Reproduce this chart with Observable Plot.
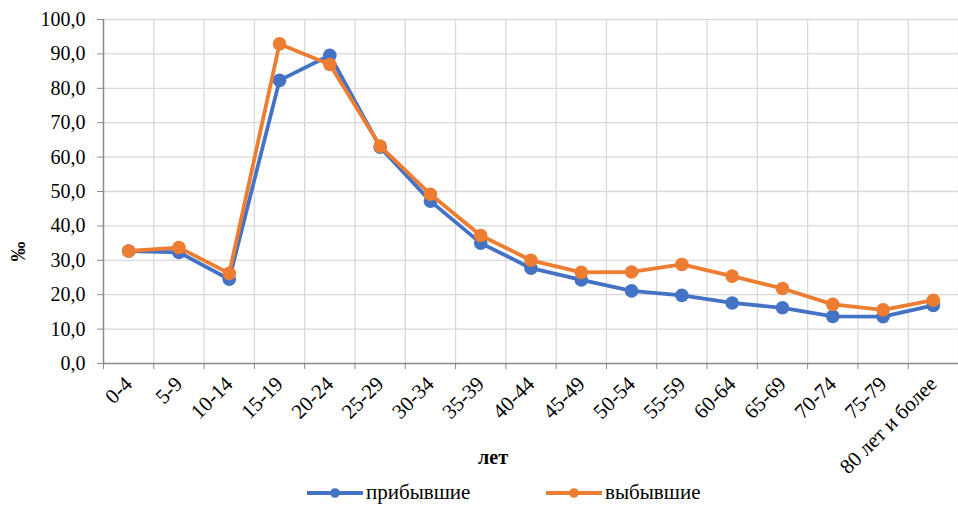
<!DOCTYPE html>
<html><head><meta charset="utf-8">
<script src="https://cdn.jsdelivr.net/npm/d3@7"></script>
<script src="https://cdn.jsdelivr.net/npm/@observablehq/plot@0.6"></script>
<style>
body{margin:0;background:#fff;font-family:"Liberation Serif","Times New Roman",serif;}
#legend{position:relative;height:25px;font-size:21px;color:#000;}
.item{position:absolute;top:0;height:25px;display:flex;align-items:center;}
.item svg{margin-right:3px;}
</style></head><body><div id="chart"></div><div id="legend"></div>
<script>
const ageGroups = ["0-4","5-9","10-14","15-19","20-24","25-29","30-34","35-39","40-44","45-49","50-54","55-59","60-64","65-69","70-74","75-79","80 лет и более"];
const arrived = [32.7,32.3,24.5,82.3,89.6,62.9,47.2,35.0,27.7,24.3,21.1,19.8,17.6,16.2,13.7,13.6,16.9];
const departed = [32.7,33.7,26.2,92.9,86.9,63.2,49.2,37.2,30.0,26.5,26.6,28.8,25.4,21.8,17.2,15.6,18.4];
const yTicks = [0,10,20,30,40,50,60,70,80,90,100];
const seriesNames = ["прибывшие","выбывшие"];
const seriesColors = ["#4472C4","#ED7D31"];
const yTitle = "‰";
const xTitle = "лет";

const seriesValues = [arrived, departed];
const data = seriesValues.map((vals, s) => vals.map((v, i) => ({i, age: ageGroups[i], v, s: seriesNames[s]})));
const bounds = d3.range(ageGroups.length + 1).map(k => k - 0.5);
const fmt = d => d.toFixed(1).replace(".", ",");
const axisColor = "#898989";

const marks = [
  Plot.ruleX(bounds.slice(1), {stroke: "#d9d9d9", strokeWidth: 1.3}),
  Plot.ruleY(yTicks.slice(1), {stroke: "#d9d9d9", strokeWidth: 1.3}),
  Plot.axisY({ticks: yTicks, tickFormat: fmt, tickSize: 6, tickPadding: 12, stroke: axisColor, fontSize: 20, label: null}),
  Plot.axisX({ticks: bounds, tickFormat: () => "", tickSize: 6, stroke: axisColor, label: null}),
  Plot.axisX({ticks: d3.range(ageGroups.length), tickFormat: i => ageGroups[i], tickSize: 0, tickRotate: -45, tickPadding: 17, fontSize: 21, label: null}),
  Plot.text([yTitle], {frameAnchor: "left", dx: -85, dy: 70, rotate: -90, fontWeight: "bold", fontSize: 20}),
  Plot.text([xTitle], {frameAnchor: "bottom", dx: -38, dy: 100, fontWeight: "bold", fontSize: 20}),
  Plot.ruleY([0], {stroke: axisColor, strokeWidth: 1.5}),
  Plot.ruleX([-0.5], {stroke: axisColor, strokeWidth: 1.5})
];
data.forEach((d, s) => {
  marks.push(Plot.line(d, {x: "i", y: "v", stroke: seriesColors[s], strokeWidth: 3.8}));
  marks.push(Plot.dot(d, {x: "i", y: "v", fill: seriesColors[s], r: 6.8}));
});

const plot = Plot.plot({
  width: 958, height: 480,
  marginLeft: 103, marginRight: 0, marginTop: 19, marginBottom: 117,
  style: {fontFamily: "'Liberation Serif', 'Times New Roman', serif", fontSize: "20px", color: "#000", background: "#fff"},
  x: {type: "linear", domain: [-0.5, ageGroups.length - 0.5]},
  y: {domain: [0, 100]},
  marks
});
document.getElementById("chart").appendChild(plot);

const legend = document.getElementById("legend");
const legendLeft = [307, 546];
seriesNames.forEach((name, s) => {
  const item = document.createElement("div");
  item.className = "item";
  item.style.left = legendLeft[s] + "px";
  item.innerHTML = `<svg width="56" height="16"><line x1="0" x2="56" y1="8" y2="8" stroke="${seriesColors[s]}" stroke-width="3.8"/><circle cx="28" cy="8" r="4.8" fill="${seriesColors[s]}"/></svg><span>${name}</span>`;
  legend.appendChild(item);
});
</script>
</body></html>
